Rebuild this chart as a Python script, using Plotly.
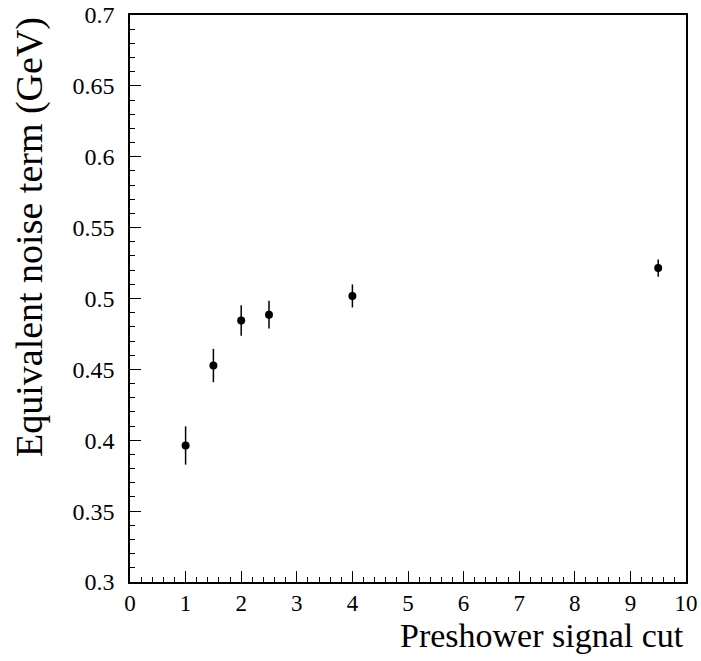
import plotly.graph_objects as go

cut = [1.0, 1.5, 2.0, 2.5, 4.0, 9.5]
noise = [0.3963, 0.4527, 0.4845, 0.4886, 0.5018, 0.5215]
noise_err = [0.0135, 0.0118, 0.0107, 0.0098, 0.0081, 0.0061]

x_ticks = list(range(0, 11))
y_ticks = [0.3, 0.35, 0.4, 0.45, 0.5, 0.55, 0.6, 0.65, 0.7]
y_tick_text = ["0.3", "0.35", "0.4", "0.45", "0.5", "0.55", "0.6", "0.65", "0.7"]

font = "Liberation Serif"

fig = go.Figure()
fig.add_trace(go.Scatter(
    x=cut, y=noise, mode="markers",
    marker=dict(color="black", size=8, symbol="circle"),
    error_y=dict(type="data", array=noise_err, color="black", thickness=1.5, width=0),
    showlegend=False,
))

fig.update_layout(
    template="none",
    width=701, height=661,
    margin=dict(l=130, r=15, t=15, b=79),
    paper_bgcolor="white", plot_bgcolor="white",
    font=dict(family=font, color="black", size=24),
    xaxis=dict(range=[0, 10], tickvals=x_ticks, ticks="inside", ticklen=11, tickwidth=1,
               tickcolor="black", showline=True, linecolor="black", linewidth=1.5, mirror=True,
               showgrid=False, zeroline=False, automargin=False, tickfont=dict(size=23, family=font),
               minor=dict(ticks="inside", dtick=0.2, ticklen=5, tickcolor="black", tickwidth=1, showgrid=False)),
    yaxis=dict(range=[0.3, 0.7], tickvals=y_ticks, ticktext=y_tick_text, ticks="inside", ticklen=11, tickwidth=1,
               tickcolor="black", showline=True, linecolor="black", linewidth=1.5, mirror=True,
               showgrid=False, zeroline=False, automargin=False, tickfont=dict(size=24, family=font),
               ticklabelstandoff=9,
               minor=dict(ticks="inside", dtick=0.01, ticklen=5, tickcolor="black", tickwidth=1, showgrid=False)),
    annotations=[
        dict(text="Preshower signal cut", xref="paper", yref="paper", x=1, y=0, yshift=-74,
             xanchor="right", yanchor="bottom", showarrow=False, font=dict(size=34, family=font)),
        dict(text="Equivalent noise term (GeV)", xref="paper", yref="paper", x=0, y=1, xshift=-101,
             xanchor="center", yanchor="top", textangle=-90, showarrow=False, font=dict(size=38, family=font)),
    ],
)

fig.write_html("out.html")
